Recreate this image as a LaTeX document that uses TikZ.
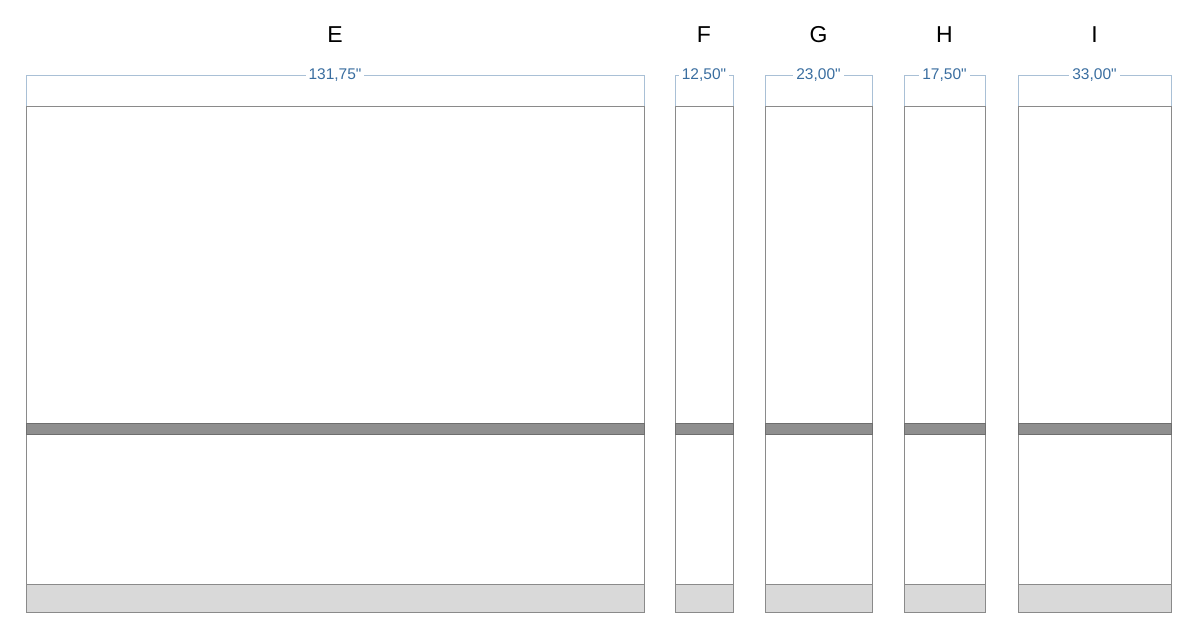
\documentclass[tikz,border=0pt]{standalone}
\usepackage{fontspec}
\setmainfont{Liberation Sans}
\newfontfamily\dimfont{Liberation Sans}[Ligatures=TeXOff]
\definecolor{dimline}{HTML}{A9C0D6}
\definecolor{dimtext}{HTML}{3A6EA0}
\definecolor{outline}{HTML}{8A8A8A}
\definecolor{bandfill}{HTML}{8F8F8F}
\definecolor{bandedge}{HTML}{6E6E6E}
\definecolor{basefill}{HTML}{D9D9D9}
\usetikzlibrary{calc}
\tikzset{
  panelbox/.style={draw=outline, line width=0.9pt, fill=white},
  bandbox/.style={draw=bandedge, line width=0.8pt, fill=bandfill},
  basebox/.style={draw=outline, line width=0.9pt, fill=basefill},
  dimln/.style={draw=dimline, line width=0.8pt},
  dimlabel/.style={fill=white, text=dimtext, font=\dimfont\fontsize{15.5}{15.5}\selectfont, inner xsep=3pt, inner ysep=2pt},
  letter/.style={font=\fontsize{23}{23}\selectfont, text=black}
}
\newcommand{\mypanel}[5]{%
  \draw[panelbox] (#1,106) rectangle (#2,612);
  \draw[bandbox] (#1,423) rectangle (#2,434);
  \draw[basebox] (#1,584) rectangle (#2,612);
  \coordinate (#5tl) at (#1,106);
  \coordinate (#5tr) at (#2,106);
  \coordinate (#5dl) at (#1,75);
  \coordinate (#5dr) at (#2,75);
  \draw[dimln] (#5tl) -- (#5dl) -- (#5dr) -- (#5tr);
  \node[dimlabel] (#5dim) at ($(#5dl)!0.5!(#5dr)$) {#4};
  \node[letter] (#5let) at ($(#1,35)!0.5!(#2,35)$) {#3};
}
\begin{document}
\begin{tikzpicture}[x=1pt,y=-1pt]
\useasboundingbox (0,0) rectangle (1200,626);
\fill[white] (0,0) rectangle (1200,626);
\mypanel{26}{644}{E}{131,75"}{e}
\mypanel{675}{733}{F}{12,50"}{f}
\mypanel{765}{872}{G}{23,00"}{g}
\mypanel{904}{985}{H}{17,50"}{h}
\mypanel{1018}{1171}{I}{33,00"}{i}
\end{tikzpicture}
\end{document}
